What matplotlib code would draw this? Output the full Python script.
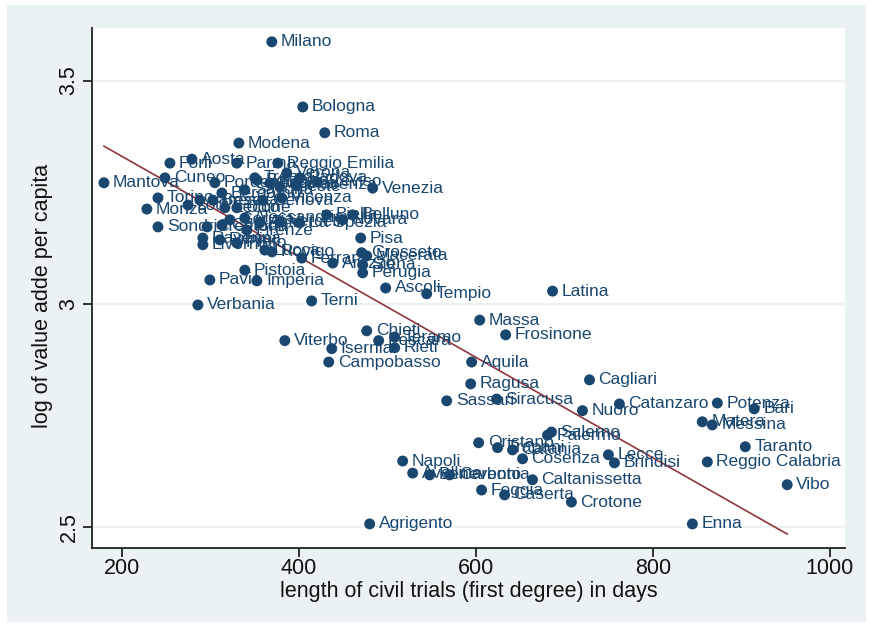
# Scatter of value added vs length of civil trials, Stata s2color look
import numpy as np
import matplotlib.pyplot as plt
from matplotlib.patches import Rectangle

plt.rcParams['font.family'] = ['Liberation Sans', 'DejaVu Sans']

# Colours (Stata s2color)
NAVY = '#1A476F'
MAROON = '#90353B'
BG = '#EAF2F3'

# Data: province, days of first degree trial, log value added per capita
names = ['Milano', 'Bologna', 'Roma', 'Modena', 'Forli', 'Aosta', 'Parma', 'Reggio Emilia',
         'Cuneo', 'Mantova', 'Pordenone', 'Torino', 'Monza', 'Sondrio', 'Venezia', 'Piacenza',
         'Vicenza', 'Verona', 'Trento', 'Padova', 'Treviso', 'Udine', 'Alessandria', 'Biella',
         'Belluno', 'Novara', 'Pisa', 'Grosseto', 'Macerata', 'Perugia', 'Ascoli', 'Tempio',
         'Latina', 'Terni', 'Verbania', 'Pavia', 'Imperia', 'Pistoia', 'Lucca', 'Rovigo',
         'Ferrara', 'Arezzo', 'Livorno', 'Bolzano', 'Bergamo', 'Brescia', 'Lecco', 'Como',
         'Genova', 'Savona', 'Trieste', 'Varese', 'Lodi', 'Gorizia', 'Asti', 'Vercelli',
         'La Spezia', 'Cremona', 'Ravenna', 'Rimini', 'Firenze', 'Prato', 'Siena', 'Ancona',
         'Chieti', 'Pescara', 'Teramo', 'Rieti', 'Isernia', 'Campobasso', 'Viterbo', 'Massa',
         'Frosinone', 'Aquila', 'Ragusa', 'Sassari', 'Siracusa', 'Cagliari', 'Nuoro',
         'Catanzaro', 'Potenza', 'Bari', 'Matera', 'Messina', 'Taranto', 'Reggio Calabria',
         'Vibo', 'Lecce', 'Brindisi', 'Salerno', 'Palermo', 'Oristano', 'Trapani', 'Catania',
         'Cosenza', 'Napoli', 'Avellino', 'Benevento', 'Carbonia', 'Caltanissetta', 'Foggia',
         'Caserta', 'Crotone', 'Agrigento', 'Enna']

days = [369.6, 404.6, 429.4, 332.4, 254.5, 279.3, 330.1, 376.4,
        248.9, 180.0, 305.3, 241.0, 228.5, 241.0, 483.5, 397.8,
        380.7, 386.5, 350.4, 401.1, 420.3, 330.1, 339.1, 431.6,
        460.9, 449.6, 470.0, 471.1, 476.8, 472.2, 498.2, 544.5,
        686.7, 414.6, 286.1, 299.6, 352.7, 339.1, 361.7, 369.8,
        403.4, 438.4, 291.7, 352.8, 313.2, 303.0, 316.6, 313.2,
        359.4, 339.1, 378.5, 288.3, 275.0, 322.2, 356.0, 378.5,
        401.1, 296.5, 291.7, 310.9, 341.4, 330.1, 472.2, 367.4,
        476.8, 490.3, 508.4, 508.4, 437.3, 433.9, 384.3, 604.4,
        633.7, 595.3, 594.2, 567.1, 623.5, 728.4, 720.5,
        762.2, 872.8, 914.5, 855.8, 867.1, 904.4, 861.5,
        951.7, 749.8, 756.6, 685.5, 681.0, 603.2, 624.6, 641.5,
        652.8, 517.4, 528.7, 547.9, 570.4, 664.0, 606.5,
        632.5, 708.0, 480.1, 844.6]

logva = [3.587, 3.441, 3.383, 3.360, 3.315, 3.324, 3.315, 3.315,
         3.282, 3.271, 3.271, 3.237, 3.212, 3.172, 3.259, 3.266,
         3.237, 3.293, 3.282, 3.282, 3.273, 3.215, 3.192, 3.199,
         3.199, 3.188, 3.147, 3.114, 3.107, 3.069, 3.035, 3.022,
         3.028, 3.006, 2.997, 3.053, 3.051, 3.075, 3.120, 3.116,
         3.102, 3.091, 3.132, 3.277, 3.248, 3.232, 3.215, 3.176,
         3.232, 3.255, 3.262, 3.232, 3.221, 3.188, 3.181, 3.183,
         3.181, 3.172, 3.147, 3.143, 3.165, 3.136, 3.087, 3.270,
         2.939, 2.917, 2.925, 2.901, 2.899, 2.869, 2.917, 2.963,
         2.930, 2.869, 2.820, 2.782, 2.786, 2.829, 2.760,
         2.775, 2.777, 2.764, 2.735, 2.728, 2.679, 2.645,
         2.594, 2.661, 2.643, 2.712, 2.705, 2.688, 2.677, 2.672,
         2.652, 2.647, 2.620, 2.616, 2.616, 2.605, 2.582,
         2.571, 2.555, 2.506, 2.506]

x_ticks = [200, 400, 600, 800, 1000]
y_ticks = [2.5, 3, 3.5]

W, H = 869, 627
fig = plt.figure(figsize=(W / 100, H / 100), dpi=100, facecolor='white')

# light blue graph region, behind the axes
fig.patches.append(Rectangle((7 / W, 5 / H), (866 - 7) / W, (622 - 5) / H,
                             transform=fig.transFigure, facecolor=BG,
                             edgecolor='none', zorder=-10))

ax = fig.add_axes([92 / W, 1 - 548 / H, (845 - 92) / W, (548 - 28) / H])
ax.set_facecolor('white')

# Linear fit over the data range
x = np.array(days)
y = np.array(logva)
slope, icpt = np.polyfit(x, y, 1)
xf = np.array([x.min(), x.max()])
ax.plot(xf, icpt + slope * xf, color=MAROON, lw=1.2, zorder=2)

ax.scatter(x, y, s=62, color=NAVY, edgecolors='none', zorder=3)
for n, xi, yi in zip(names, days, logva):
    ax.annotate(n, (xi, yi), xytext=(6.5, 0), textcoords='offset points',
                ha='left', va='center', fontsize=12.5, color=NAVY, zorder=4)

ax.set_xlim(166.5, 1017)
ax.set_ylim(2.452, 3.618)
ax.set_xticks(x_ticks)
ax.set_yticks(y_ticks)
ax.set_yticklabels(['2.5', '3', '3.5'])

ax.grid(axis='y', color=BG, lw=1.5, zorder=1)
ax.set_axisbelow(True)

for s in ['top', 'right']:
    ax.spines[s].set_visible(False)
for s in ['left', 'bottom']:
    ax.spines[s].set_color('#222222')
    ax.spines[s].set_linewidth(1.3)

ax.tick_params(axis='both', length=6.5, width=1.3, color='#222222',
               labelsize=15.5, labelcolor='#111111')
ax.tick_params(axis='x', pad=0.5)
ax.tick_params(axis='y', pad=2.5, labelrotation=90)
for lab in ax.get_yticklabels():
    lab.set_va('center')

ax.set_xlabel('length of civil trials (first degree) in days', fontsize=15.5,
              color='#111111', va='center')
ax.xaxis.set_label_coords(0.5, -0.0846)
ax.set_ylabel('log of value adde per capita', fontsize=15.5, color='#111111',
              va='center', ha='center')
ax.yaxis.set_label_coords(-0.0664, 0.485)

fig.savefig('out.png', dpi=100, facecolor=fig.get_facecolor())
